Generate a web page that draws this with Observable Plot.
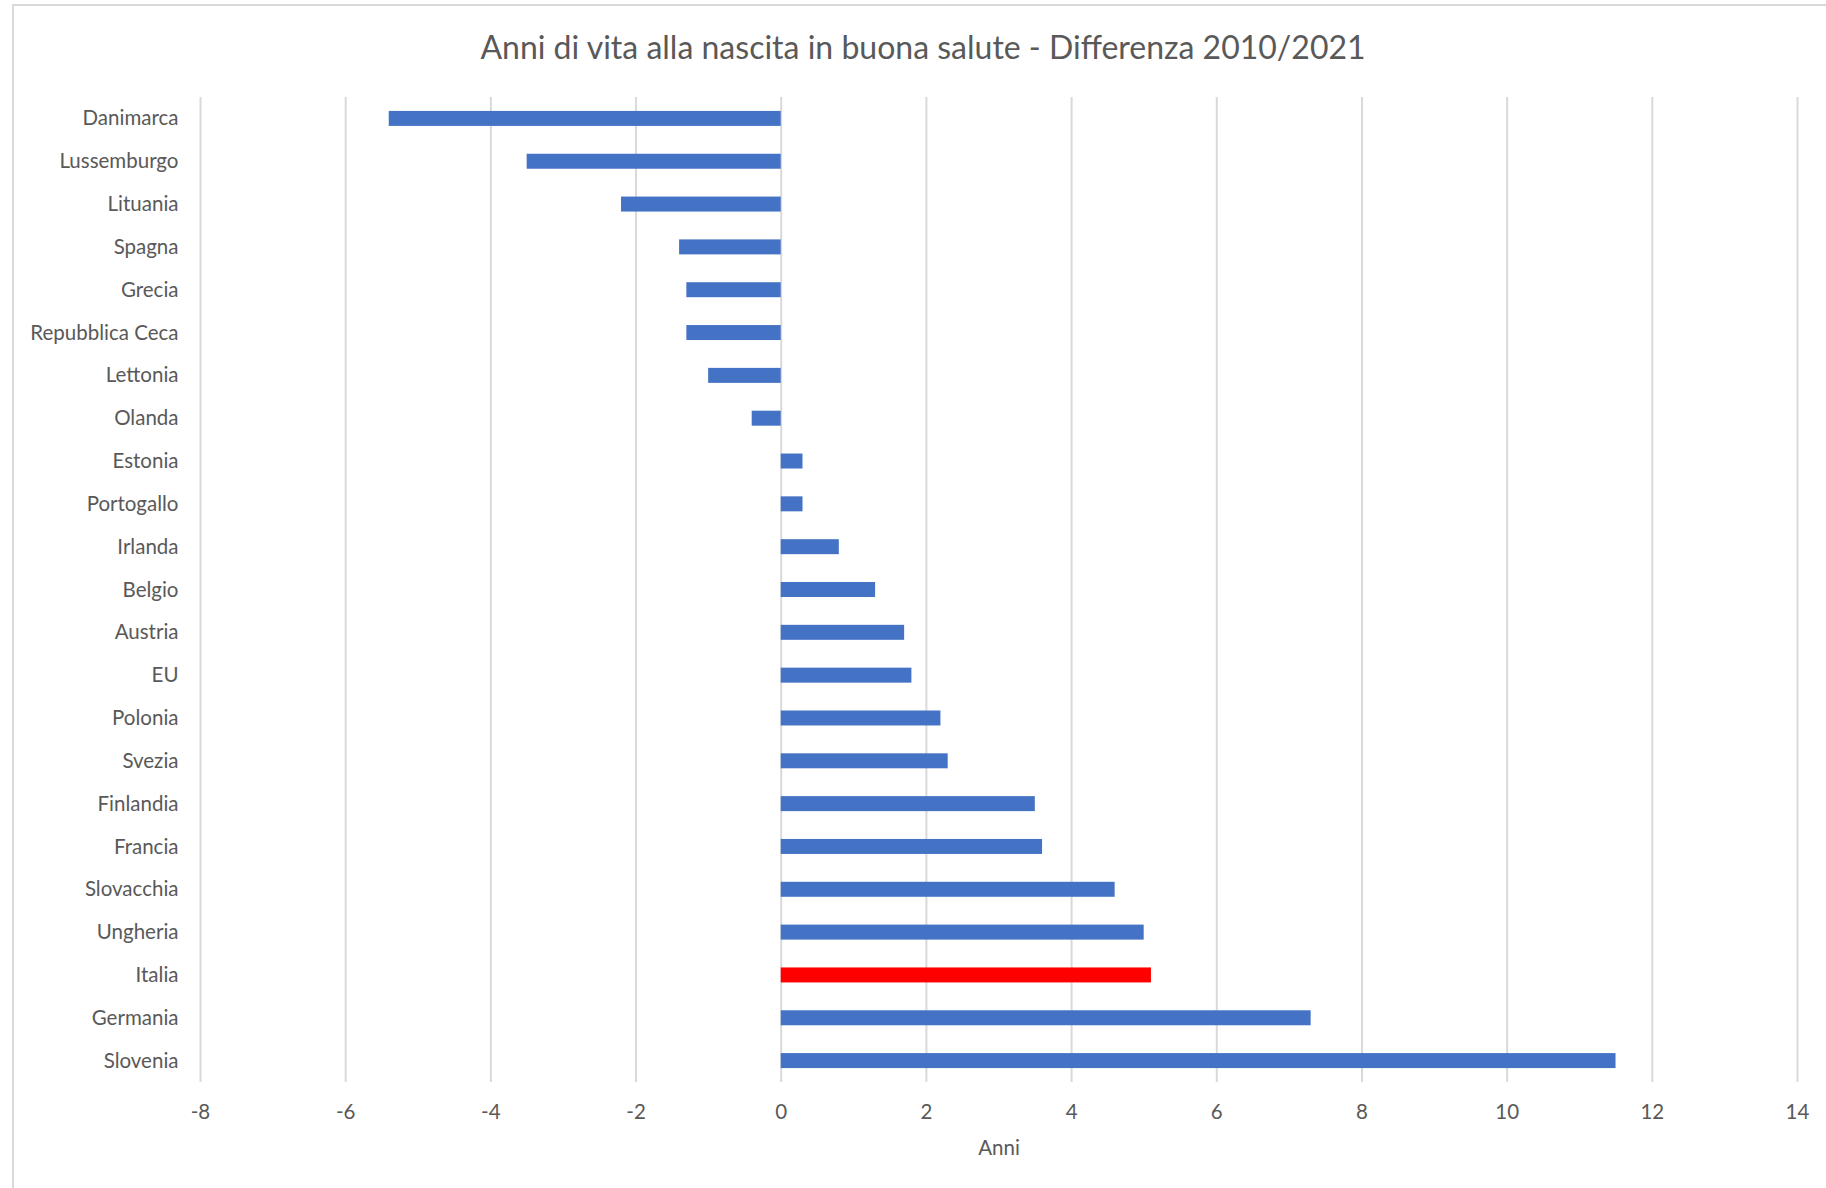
<!DOCTYPE html>
<html>
<head>
<meta charset="utf-8">
<script src="https://cdn.jsdelivr.net/npm/d3@7"></script>
<script src="https://cdn.jsdelivr.net/npm/@observablehq/plot@0.6"></script>
<style>
  html, body { margin: 0; padding: 0; background: #fff; overflow: hidden; }
  #chart { position: relative; width: 1826px; height: 1188px; font-family: Lato, "Open Sans", sans-serif; color: #595959; }
  #frame { position: absolute; left: 12px; top: 4px; width: 1900px; height: 1300px; border: 2px solid #d9d9d9; box-sizing: border-box; pointer-events: none; }
  #title { margin-left: 13px; width: 1820px; height: 80px; padding-top: 31px; box-sizing: border-box; text-align: center; font-size: 32px; line-height: 1; white-space: nowrap; }
  #plot svg { display: block; }
</style>
</head>
<body>
<div id="chart">
  <div id="frame"></div>
  <div id="title">Anni di vita alla nascita in buona salute - Differenza 2010/2021</div>
  <div id="plot"></div>
</div>
<script>
// Healthy life years at birth: change between 2010 and 2021, in years
const countries = [
  "Danimarca", "Lussemburgo", "Lituania", "Spagna", "Grecia", "Repubblica Ceca",
  "Lettonia", "Olanda", "Estonia", "Portogallo", "Irlanda", "Belgio", "Austria",
  "EU", "Polonia", "Svezia", "Finlandia", "Francia", "Slovacchia", "Ungheria",
  "Italia", "Germania", "Slovenia"
];
const values = [
  -5.4, -3.5, -2.2, -1.4, -1.3, -1.3,
  -1.0, -0.4, 0.3, 0.3, 0.8, 1.3, 1.7,
  1.8, 2.2, 2.3, 3.5, 3.6, 4.6, 5.0,
  5.1, 7.3, 11.5
];
const highlighted = "Italia";
const xTicks = [-8, -6, -4, -2, 0, 2, 4, 6, 8, 10, 12, 14];

const rows = countries.map((country, i) => ({
  country,
  value: values[i],
  group: country === highlighted ? "evidenza" : "altri"
}));

const chart = Plot.plot({
  width: 1826,
  height: 1108,
  marginTop: 17,
  marginBottom: 106,
  marginLeft: 200,
  marginRight: 29,
  style: {
    fontFamily: "Lato, 'Open Sans', sans-serif",
    fontSize: "20.5px",
    color: "#595959",
    background: "transparent",
    overflow: "visible"
  },
  x: { domain: [-8, 14] },
  y: { domain: countries, paddingInner: 0.65, paddingOuter: 0.325, round: false },
  color: { domain: ["altri", "evidenza"], range: ["#4472c4", "#ff0000"] },
  marks: [
    Plot.gridX(xTicks, { stroke: "#d9d9d9", strokeOpacity: 1, strokeWidth: 2 }),
    Plot.barX(rows, { x: "value", y: "country", fill: "group" }),
    Plot.axisX(xTicks, {
      tickSize: 0,
      tickPadding: 22,
      tickFormat: (d) => String(d),
      label: "Anni",
      labelAnchor: "center",
      labelArrow: false,
      labelOffset: 72,
      fill: "#595959"
    }),
    Plot.axisY({
      tickSize: 0,
      tickPadding: 22,
      label: null,
      fill: "#595959"
    })
  ]
});

document.getElementById("plot").appendChild(chart);
</script>
</body>
</html>
